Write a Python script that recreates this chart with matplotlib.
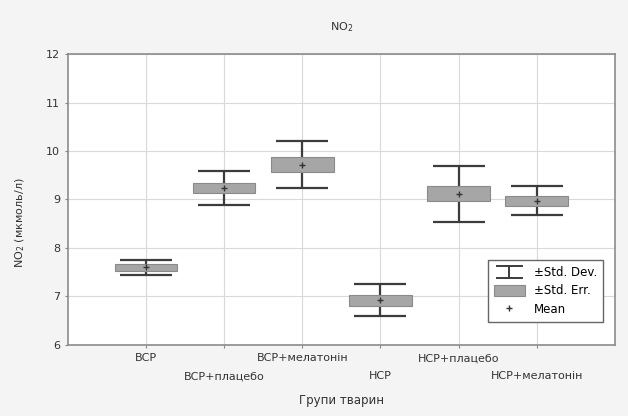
import matplotlib
matplotlib.use("Agg")
import matplotlib.pyplot as plt
import numpy as np
from matplotlib.legend_handler import HandlerBase
from matplotlib.lines import Line2D
from matplotlib.container import ErrorbarContainer

categories = ["ВСР", "ВСР+плацебо", "ВСР+мелатонін", "НСР", "НСР+плацебо", "НСР+мелатонін"]
means = [7.60, 9.24, 9.72, 6.92, 9.12, 8.97]
std_err = [0.07, 0.11, 0.16, 0.11, 0.155, 0.095]
std_dev = [0.155, 0.355, 0.49, 0.33, 0.575, 0.30]
yticks = [6, 7, 8, 9, 10, 11, 12]

plt.rcParams['font.family'] = ['DejaVu Sans']
fig = plt.figure(figsize=(6.28, 4.16), dpi=100)
fig.patch.set_facecolor('#f4f4f4')
ax = fig.add_axes([0.108, 0.171, 0.871, 0.699])
ax.set_facecolor('white')

x = np.arange(1, len(categories) + 1)
m = np.array(means)
se = np.array(std_err)
sd = np.array(std_dev)

ebc = '#3c3c3c'
eb = ax.errorbar(x, m, yerr=sd, fmt='none', ecolor=ebc, elinewidth=1.6,
                 capsize=19, capthick=1.6, label='±Std. Dev.', zorder=3)
ax.bar(x, 2 * se, bottom=m - se, width=0.8, color='#a6a6a6', edgecolor='#8a8a8a',
       linewidth=0.8, label='±Std. Err.', zorder=4)
ax.plot(x, m, '+', color='#333333', markersize=4, markeredgewidth=1.0, label='Mean', zorder=5)


class HandlerSD(HandlerBase):
    def create_artists(self, legend, orig_handle, xdescent, ydescent, width,
                       height, fontsize, trans):
        x0 = -xdescent
        y0 = -ydescent
        cx = x0 + width / 2
        cw = width * 0.8
        yb = y0 - height * 0.05
        yt = y0 + height * 1.05
        arts = [
            Line2D([cx, cx], [yb, yt], color=ebc, lw=1.4),
            Line2D([cx - cw / 2, cx + cw / 2], [yb, yb], color=ebc, lw=1.4),
            Line2D([cx - cw / 2, cx + cw / 2], [yt, yt], color=ebc, lw=1.4),
        ]
        for a in arts:
            a.set_transform(trans)
        return arts


ax.set_xlim(0, 7)
ax.set_ylim(6, 12)
ax.set_yticks(yticks)
ax.set_yticklabels([str(v) for v in yticks], fontsize=8, color='#333333')
ax.set_xticks(x)
ax.set_xticklabels(categories, fontsize=8, color='#333333')
ax.tick_params(axis='both', length=2, color='#888888')
for i, t in enumerate(ax.xaxis.get_major_ticks()):
    t.set_pad(4 if i % 2 == 0 else 17)
ax.grid(True, color='#d9d9d9', linewidth=0.8, zorder=0)
ax.set_axisbelow(True)
for s in ax.spines.values():
    s.set_color('#8c8c8c')
    s.set_linewidth(1.2)

ax.set_title('NO$_2$', fontsize=8, color='#333333', pad=17)
ax.set_ylabel('NO$_2$ (мкмоль/л)', fontsize=8, color='#333333')
ax.yaxis.set_label_coords(-0.075, 0.42)
ax.set_xlabel('Групи тварин', fontsize=8.5, color='#333333', labelpad=9)

h, l = ax.get_legend_handles_labels()
order = [l.index('±Std. Dev.'), l.index('±Std. Err.'), l.index('Mean')]
leg = ax.legend([h[i] for i in order], [l[i] for i in order], loc='lower right',
                bbox_to_anchor=(0.99, 0.06), fontsize=8.5, fancybox=False,
                edgecolor='#666666', framealpha=1, handlelength=2.6, handleheight=1.0,
                labelspacing=0.45, borderpad=0.5, handletextpad=0.8,
                handler_map={ErrorbarContainer: HandlerSD()})
leg.get_frame().set_linewidth(1.0)

fig.savefig('out.png', dpi=100, facecolor=fig.get_facecolor())
